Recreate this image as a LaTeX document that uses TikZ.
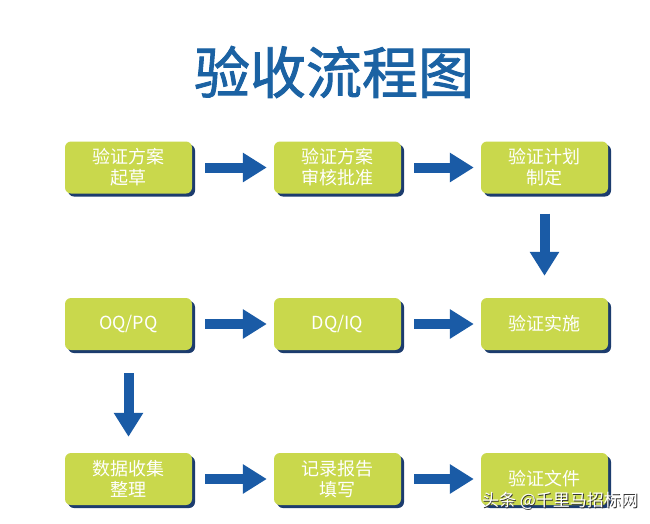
\documentclass[tikz,border=0pt]{standalone}
\usepackage{fontspec}
\setmainfont{Noto Sans CJK SC}
\newfontfamily\cjk{Noto Sans CJK SC}
\newfontfamily\cjktitle[FakeBold=1.6]{Noto Sans CJK SC}
\usetikzlibrary{arrows.meta,shadows}
\definecolor{boxfill}{HTML}{C9D84C}
\definecolor{boxshadow}{HTML}{1C3C6E}
\definecolor{arrowblue}{HTML}{1A5BA6}
\definecolor{titleblue}{HTML}{1B62A3}
\tikzset{
  stepbox/.style={draw=none, fill=boxfill, rounded corners=6pt,
    minimum width=127pt, minimum height=52pt, inner sep=0pt,
    align=center, text=white, font=\cjk\fontsize{18}{21}\selectfont,
    drop shadow={shadow xshift=3pt, shadow yshift=-3pt, fill=boxshadow, opacity=1}},
  bigarrow/.style={draw=arrowblue, line width=10pt,
    -{Triangle[length=24pt,width=28pt]}, arrowblue}
}
\begin{document}
\begin{tikzpicture}[x=1pt,y=-1pt]
\useasboundingbox (0,0) rectangle (650,523);
\fill[white] (0,0) rectangle (650,523);
\node[text=titleblue, font=\cjktitle\fontsize{56}{60}\selectfont] (title) at (334,72) {验收流程图};

\node[stepbox] (a1) at (128.5,167.5) {验证方案\\起草};
\node[stepbox] (a2) at (337.5,167.5) {验证方案\\审核批准};
\node[stepbox] (a3) at (544.5,167.5) {验证计划\\制定};
\node[stepbox] (b1) at (128.5,324) {OQ/PQ};
\node[stepbox] (b2) at (337.5,324) {DQ/IQ};
\node[stepbox] (b3) at (544.5,324) {验证实施};
\node[stepbox] (c1) at (128.5,479) {数据收集\\整理};
\node[stepbox] (c2) at (337.5,479) {记录报告\\填写};
\node[stepbox] (c3) at (544.5,479) {验证文件};

\draw[bigarrow, shorten <=13pt, shorten >=7pt] (a1.east) -- (a2.west);
\draw[bigarrow, shorten <=13pt, shorten >=7pt] (a2.east) -- (a3.west);
\draw[bigarrow, shorten <=20pt, shorten >=22pt] (a3.south) -- (b3.north);
\draw[bigarrow, shorten <=13pt, shorten >=7pt] (b1.east) -- (b2.west);
\draw[bigarrow, shorten <=13pt, shorten >=7pt] (b2.east) -- (b3.west);
\draw[bigarrow, shorten <=23pt, shorten >=16pt] (b1.south) -- (c1.north);
\draw[bigarrow, shorten <=13pt, shorten >=7pt] (c1.east) -- (c2.west);
\draw[bigarrow, shorten <=13pt, shorten >=7pt] (c2.east) -- (c3.west);

\node[text=black!80, font=\cjk\fontsize{17}{20}\selectfont] (wmshadow) at (560.8,501.8) {头条 @千里马招标网};
\node[text=white, font=\cjk\fontsize{17}{20}\selectfont] (wm) at (560,501) {头条 @千里马招标网};
\end{tikzpicture}
\end{document}
